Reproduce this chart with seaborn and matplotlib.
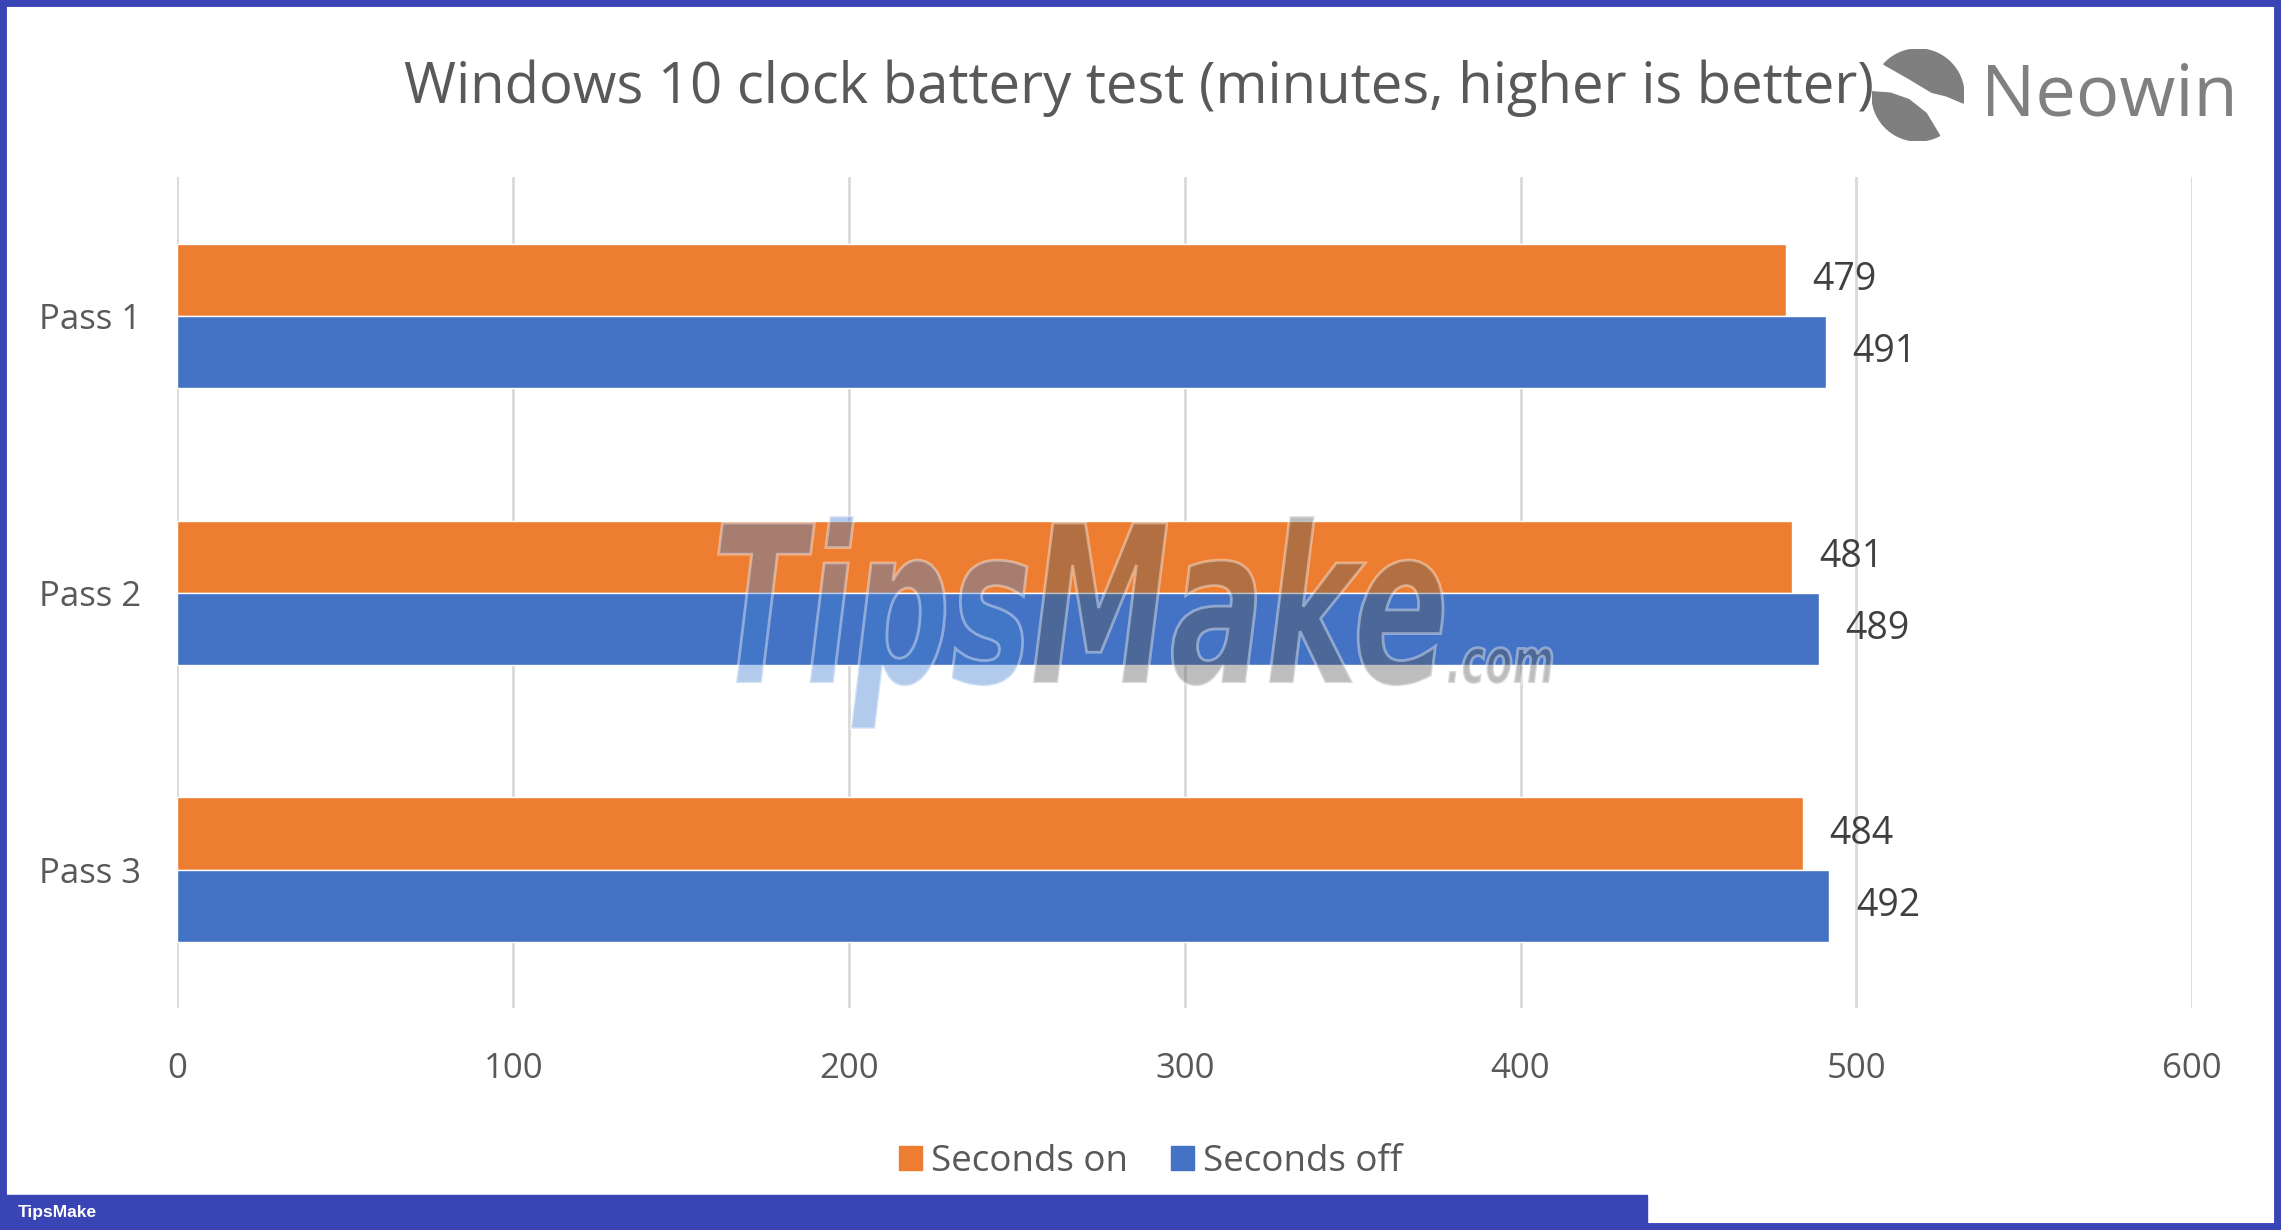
import numpy as np
import pandas as pd
import matplotlib
matplotlib.use("Agg")
from matplotlib import pyplot as plt
from matplotlib.patches import Rectangle, Polygon, PathPatch
from matplotlib.textpath import TextPath
from matplotlib.font_manager import FontProperties
from matplotlib.transforms import Affine2D
import seaborn as sns

passes = ["Pass 1", "Pass 2", "Pass 3"]
seconds_on = [479, 481, 484]
seconds_off = [491, 489, 492]
series = ["Seconds on", "Seconds off"]
colors = ["#ED7D31", "#4472C4"]
x_ticks = [0, 100, 200, 300, 400, 500, 600]

df = pd.DataFrame({
    "Pass": passes * 2,
    "Minutes": seconds_on + seconds_off,
    "Series": [series[0]] * 3 + [series[1]] * 3,
})

sns.set_theme(style="white")
plt.rcParams["font.family"] = ["Open Sans", "DejaVu Sans"]

W, H = 2281, 1230
fig = plt.figure(figsize=(W / 100, H / 100), dpi=100)
ax = fig.add_axes([0.0778, 0.1805, 0.961 - 0.0778, 0.856 - 0.1805])

sns.barplot(data=df, y="Pass", x="Minutes", hue="Series", hue_order=series,
            palette=colors, orient="h", width=0.52, saturation=1, ax=ax,
            legend=True)

ax.set_xlim(0, 600)
ax.set_ylim(2.5, -0.5)
ax.set_xticks(x_ticks)
ax.set_xlabel("")
ax.set_ylabel("")
ax.xaxis.grid(True, color="#D9D9D9", linewidth=2)
ax.set_axisbelow(True)
for s in ax.spines.values():
    s.set_visible(False)
ax.tick_params(axis="both", length=0, labelsize=25, colors="#595959")
ax.tick_params(axis="y", pad=26)
ax.tick_params(axis="x", pad=32)

for cont in ax.containers:
    ax.bar_label(cont, padding=19, fontsize=27, color="#404040")

ax.legend_.remove()
handles = [Rectangle((0, 0), 1, 1, color=c) for c in colors]
fig.legend(handles, series, loc="center", bbox_to_anchor=(0.5045, 0.0555), ncol=2,
           frameon=False, fontsize=26.5, handlelength=0.62, handleheight=0.62,
           handletextpad=0.25, columnspacing=1.15, labelcolor="#595959")

fig.text(0.4995, 0.928, "Windows 10 clock battery test (minutes, higher is better)",
         ha="center", va="center", fontsize=40.5, color="#595959")

# Neowin logo
lax = fig.add_axes([(1918 - 46) / W, 1 - (95 + 46) / H, 92 / W, 92 / H])
lax.set_aspect("equal")
lax.set_xlim(-1, 1)
lax.set_ylim(-1, 1)
lax.axis("off")
t1 = np.radians(np.linspace(138, -10, 50))
top = list(zip(np.cos(t1), np.sin(t1))) + [(0.62, -0.02), (0.3, 0.06), (-0.2, 0.36)]
t2 = np.radians(np.linspace(176, 298, 50))
bot = list(zip(np.cos(t2), np.sin(t2))) + [(0.18, -0.4), (-0.2, -0.1), (-0.6, 0.04)]
lax.add_patch(Polygon(top, closed=True, color="#7F7F7F"))
lax.add_patch(Polygon(bot, closed=True, color="#7F7F7F"))
fig.text(1981 / W, 1 - 97 / H, "Neowin", ha="left", va="center", fontsize=52,
         color="#808080")


# translucent site watermark over the plot
def stamp(txt, x0, x1, base, cap, color):
    fp = FontProperties(family="DejaVu Sans", weight="bold", style="oblique")
    p = TextPath((0, 0), txt, size=1, prop=fp)
    v = p.vertices
    sy = cap / 0.729
    sx = (x1 - x0) / (v[:, 0].max() - v[:, 0].min())
    tr = (Affine2D().translate(-v[:, 0].min(), 0).scale(sx, sy)
          .translate(x0, H - base).scale(1 / W, 1 / H))
    fig.patches.append(PathPatch(tr.transform_path(p), transform=fig.transFigure,
                                 facecolor=color, edgecolor=(1, 1, 1, 0.35),
                                 linewidth=2, alpha=0.4, zorder=10))


stamp("Tips", 712, 1027, 683, 160, "#3F7FD0")
stamp("Make", 1030, 1443, 683, 160, "#5A5A5A")
stamp(".com", 1446, 1552, 683, 46, "#5A5A5A")

# page frame and footer
blue = "#3A45B5"
fig.patches.append(Rectangle((0, 0), 1, 1, transform=fig.transFigure, fill=False,
                             edgecolor=blue, linewidth=10))
fig.patches.append(Rectangle((0, 0), 1647 / W, 35 / H, transform=fig.transFigure,
                             color=blue))
fig.text(18 / W, 17 / H, "TipsMake", ha="left", va="center", fontsize=12.5,
         color="white", fontweight="bold", family=["Liberation Sans", "DejaVu Sans"])

fig.savefig("out.png", dpi=100)
